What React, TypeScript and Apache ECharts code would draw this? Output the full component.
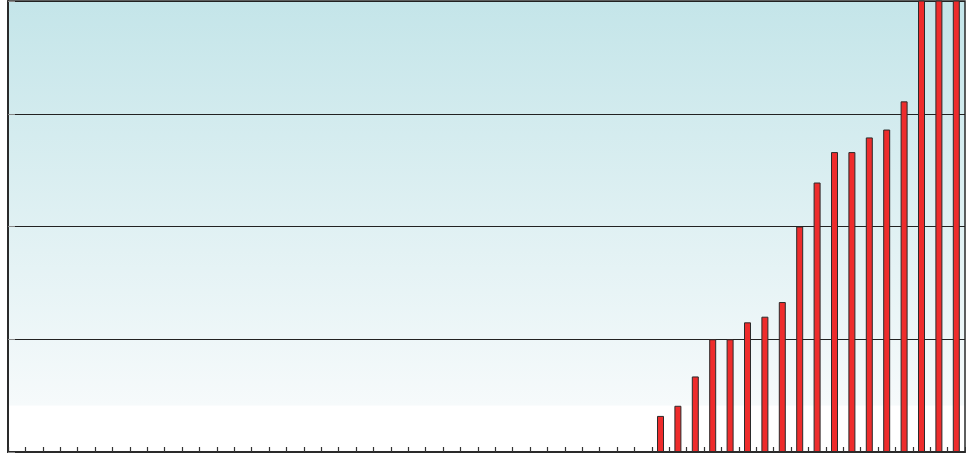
import React, { useEffect, useRef } from "react";
import * as echarts from "echarts";

const categories = [
  "1", "2", "3", "4", "5", "6", "7", "8", "9", "10",
  "11", "12", "13", "14", "15", "16", "17", "18", "19", "20",
  "21", "22", "23", "24", "25", "26", "27", "28", "29", "30",
  "31", "32", "33", "34", "35", "36", "37", "38", "39", "40",
  "41", "42", "43", "44", "45", "46", "47", "48", "49", "50",
  "51", "52", "53", "54", "55",
];

const values = [
  null, null, null, null, null, null, null, null, null, null,
  null, null, null, null, null, null, null, null, null, null,
  null, null, null, null, null, null, null, null, null, null,
  null, null, null, null, null, null, null, 32, 41, 67,
  100, 100, 115, 120, 133, 200, 239, 266, 266, 279,
  286, 311, 420, 420, 420,
];

const yTicks = [0, 100, 200, 300, 400];

export default function App() {
  const ref = useRef<HTMLDivElement>(null);
  useEffect(() => {
    if (!ref.current) return;
    const chart = echarts.init(ref.current, null, { renderer: "svg" });
    chart.setOption({
      animation: false,
      grid: {
        left: 8,
        right: 1,
        top: 1,
        bottom: 4,
        show: true,
        borderColor: "#2a2a2a",
        borderWidth: 1.5,
        backgroundColor: new echarts.graphic.LinearGradient(0, 0, 0, 1, [
          { offset: 0, color: "#c4e5e9" },
          { offset: 0.896, color: "#f6fafb" },
          { offset: 0.898, color: "#ffffff" },
          { offset: 1, color: "#ffffff" },
        ]),
      },
      xAxis: {
        type: "category",
        data: categories,
        boundaryGap: true,
        axisLine: { show: true, lineStyle: { color: "#2a2a2a", width: 2 } },
        axisTick: {
          show: true,
          inside: true,
          length: 5,
          interval: 0,
          lineStyle: { color: "#333", width: 1.2 },
        },
        axisLabel: { show: false },
      },
      yAxis: {
        type: "value",
        min: yTicks[0],
        max: yTicks[yTicks.length - 1],
        interval: 100,
        axisLine: { show: true, lineStyle: { color: "#2a2a2a", width: 2 } },
        axisTick: { show: true, inside: true, length: 7, lineStyle: { color: "#888" } },
        axisLabel: { show: false },
        splitLine: { show: true, lineStyle: { color: "#222", width: 1.2 } },
      },
      series: [
        {
          type: "bar",
          data: values,
          barWidth: 7,
          clip: true,
          itemStyle: {
            color: "#ee2c2c",
            borderColor: "#2b2b2b",
            borderWidth: 1,
          },
        },
      ],
    });
    return () => chart.dispose();
  }, []);
  return (
    <div
      ref={ref}
      style={{ position: "fixed", left: 0, top: 0, width: 966, height: 456 }}
    />
  );
}
